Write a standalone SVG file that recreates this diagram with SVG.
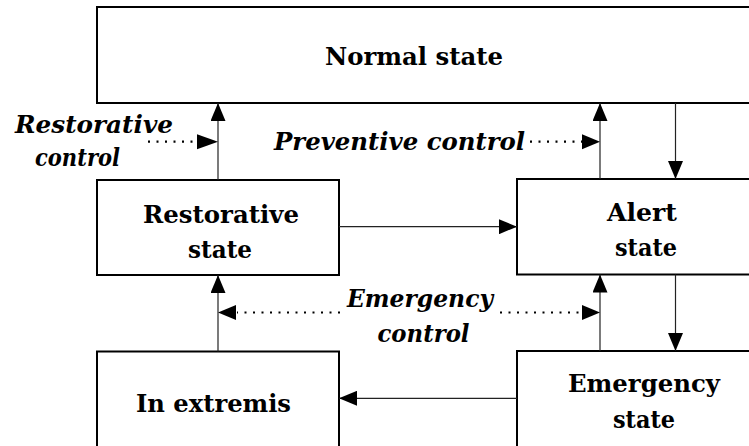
<svg xmlns="http://www.w3.org/2000/svg" width="749" height="446" viewBox="0 0 749 446">
  <style>
    .box { fill: #ffffff; stroke: #000000; stroke-width: 2; }
    .lbl { font-family: "DejaVu Serif", "Liberation Serif", serif; font-size: 25px; font-weight: bold; fill: #000000; }
    .ctl { font-family: "DejaVu Serif", "Liberation Serif", serif; font-size: 25px; font-style: italic; font-weight: bold; fill: #000000; }
    .flow { fill: none; stroke: #222222; stroke-width: 1.2; }
    .dot { fill: none; stroke: #000000; stroke-width: 2.2; stroke-dasharray: 2 6.5; }
  </style>
  <defs>
    <marker id="head" markerUnits="userSpaceOnUse" markerWidth="18" markerHeight="15" refX="18" refY="7.5" orient="auto">
      <path d="M0,0 L18,7.5 L0,15 Z" fill="#000000"/>
    </marker>
  </defs>

  <rect width="749" height="446" fill="#ffffff"/>

  <!-- states -->
  <g id="normal">
    <rect class="box" x="97" y="7" width="700" height="96"/>
    <text class="lbl" x="325" y="65" textLength="178" lengthAdjust="spacingAndGlyphs">Normal state</text>
  </g>
  <g id="restorative">
    <rect class="box" x="97" y="180" width="242" height="95"/>
    <text class="lbl" x="143" y="223" textLength="156" lengthAdjust="spacingAndGlyphs">Restorative</text>
    <text class="lbl" x="188" y="258" textLength="64" lengthAdjust="spacingAndGlyphs">state</text>
  </g>
  <g id="alert">
    <rect class="box" x="517" y="179" width="300" height="95.5"/>
    <text class="lbl" x="607" y="221" textLength="70" lengthAdjust="spacingAndGlyphs">Alert</text>
    <text class="lbl" x="615" y="256" textLength="62" lengthAdjust="spacingAndGlyphs">state</text>
  </g>
  <g id="emergency">
    <rect class="box" x="517" y="351" width="300" height="120"/>
    <text class="lbl" x="568" y="392" textLength="152" lengthAdjust="spacingAndGlyphs">Emergency</text>
    <text class="lbl" x="613" y="428" textLength="62" lengthAdjust="spacingAndGlyphs">state</text>
  </g>
  <g id="extremis">
    <rect class="box" x="97" y="351.5" width="242" height="120"/>
    <text class="lbl" x="136" y="412" textLength="155" lengthAdjust="spacingAndGlyphs">In extremis</text>
  </g>

  <!-- transitions and control actions -->
  <g id="connectors">
    <line class="flow" x1="218" y1="180" x2="218" y2="103" marker-end="url(#head)"/>
    <line class="flow" x1="600" y1="179" x2="600" y2="103" marker-end="url(#head)"/>
    <line class="flow" x1="675.5" y1="103" x2="675.5" y2="179" marker-end="url(#head)"/>
    <line class="flow" x1="339" y1="226.7" x2="517" y2="226.7" marker-end="url(#head)"/>
    <line class="flow" x1="675.5" y1="274.5" x2="675.5" y2="351" marker-end="url(#head)"/>
    <line class="flow" x1="600" y1="351" x2="600" y2="274.5" marker-end="url(#head)"/>
    <line class="flow" x1="218" y1="351.5" x2="218" y2="275" marker-end="url(#head)"/>
    <line class="flow" x1="517" y1="398.3" x2="339" y2="398.3" marker-end="url(#head)"/>

    <line class="dot" x1="148" y1="141.7" x2="197" y2="141.7"/>
    <path d="M197,134.2 L218,141.7 L197,149.2 Z" fill="#000000"/>
    <line class="dot" x1="530" y1="141.7" x2="582" y2="141.7"/>
    <path d="M582,134.2 L600,141.7 L582,149.2 Z" fill="#000000"/>
    <line class="dot" x1="340" y1="312.5" x2="237" y2="312.5"/>
    <path d="M236,305 L218,312.5 L236,320 Z" fill="#000000"/>
    <line class="dot" x1="500" y1="312.5" x2="582" y2="312.5"/>
    <path d="M582,305 L600,312.5 L582,320 Z" fill="#000000"/>

    <text class="ctl" x="15" y="133" textLength="158" lengthAdjust="spacingAndGlyphs">Restorative</text>
    <text class="ctl" x="35" y="166" textLength="85" lengthAdjust="spacingAndGlyphs">control</text>
    <text class="ctl" x="274" y="150" textLength="251" lengthAdjust="spacingAndGlyphs">Preventive control</text>
    <text class="ctl" x="347" y="306.5" textLength="146" lengthAdjust="spacingAndGlyphs">Emergency</text>
    <text class="ctl" x="377.5" y="341.7" textLength="92" lengthAdjust="spacingAndGlyphs">control</text>
  </g>
</svg>
